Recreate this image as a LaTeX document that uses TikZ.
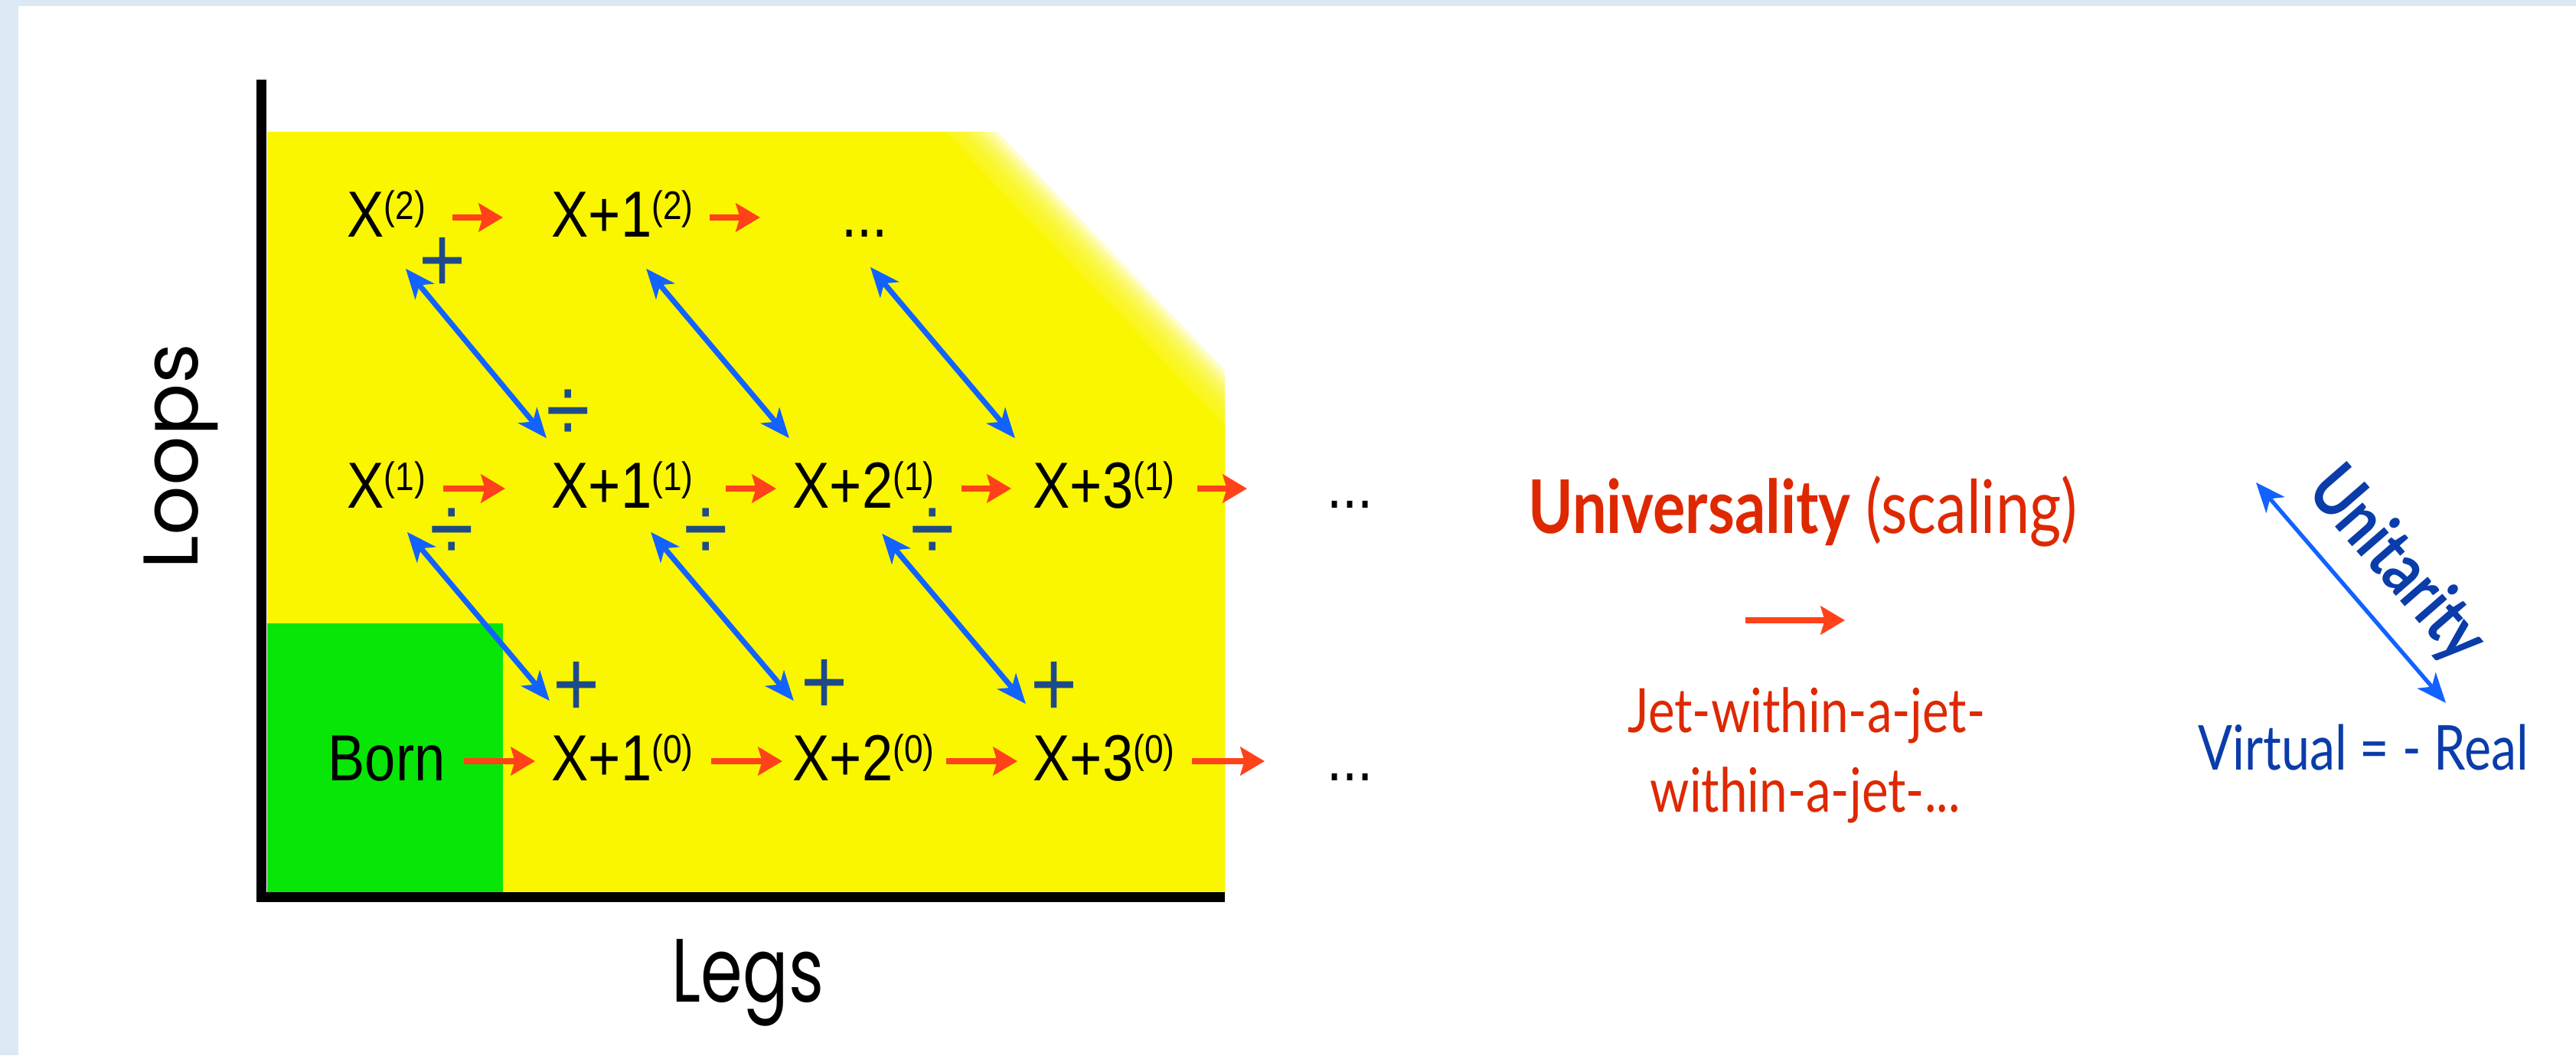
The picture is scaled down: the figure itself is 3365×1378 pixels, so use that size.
\documentclass[tikz,border=0pt]{standalone}
\usepackage{fontspec}
\setmainfont{Liberation Sans}[FakeStretch=0.85]
\newfontfamily\axisfont{Poppins}
\newfontfamily\legsfont{Poppins}[FakeStretch=0.75]
\newfontfamily\notefont{Lato}[FakeStretch=0.82]

\usetikzlibrary{arrows.meta}

\definecolor{bgblue}{RGB}{220,233,244}
\definecolor{yel}{RGB}{250,246,0}
\definecolor{grn}{RGB}{8,230,8}
\definecolor{arrred}{RGB}{255,66,25}
\definecolor{arrblue}{RGB}{18,98,255}
\definecolor{signblue}{RGB}{30,75,135}
\definecolor{txtred}{RGB}{222,40,0}
\definecolor{txtblue}{RGB}{10,60,170}

% loop order as a superscript
\newcommand{\lord}[1]{\raisebox{6.5pt}{\fontsize{14.8}{15}\selectfont(#1)}}

\tikzset{
  term/.style={inner sep=0pt, anchor=base west, text height=0.7cm, text depth=0.2cm,
    font=\fontsize{24.2}{29}\selectfont},
  sign/.style={inner sep=0pt, text=signblue, font=\fontsize{35}{35}\selectfont},
  redarrow/.style={draw=arrred, line width=2pt, -{Stealth[length=9pt,width=10.5pt,inset=1.5pt]}},
  bluearrow/.style={draw=arrblue, line width=2pt,
    {Stealth[length=11pt,width=9pt,inset=3pt]}-{Stealth[length=11pt,width=9pt,inset=3pt]}},
}

\begin{document}
\begin{tikzpicture}[x=0.01cm, y=-0.01cm]
    \useasboundingbox (0,0) rectangle (3365,1378);
    \fill[bgblue] (0,0) rectangle (3365,1378);
    \fill[white] (24,8) rectangle (3365,1378);

    % yellow region, faded along the diagonal
    \begin{scope}
        \clip (349,172) rectangle (1600,1165);
        \fill[yel] (300,0) -- (1124,57) -- (1710,671) -- (1700,1300) -- (300,1300) -- cycle;
        \foreach \d in {1,...,10}
            \fill[yel, opacity=0.2] (300,0) -- (1124+3.6*\d,57-3.45*\d)
                -- (1710+3.6*\d,671-3.45*\d) -- (1750,1300) -- (300,1300) -- cycle;
    \end{scope}
    \fill[grn] (349,814) rectangle (657,1165);

    % axes
    \fill (335,104) rectangle (348,1178);
    \fill (335,1165) rectangle (1600,1178);
    \node[rotate=90, anchor=base, font=\axisfont\fontsize{28.8}{30}\selectfont] (loops) at (258,596) {Loops};
    \node[anchor=base, font=\legsfont\fontsize{33.4}{34}\selectfont] (legs) at (977,1308) {Legs};

    % two loops
    \node[term] (x2) at (453,309) {X\lord{2}};
    \node[term] (x12) at (720,309) {X+1\lord{2}};
    \node[term] (d2) at (1099,309) {...};
    % one loop
    \node[term] (x1) at (453,663) {X\lord{1}};
    \node[term] (x11) at (720,663) {X+1\lord{1}};
    \node[term] (x21) at (1035,663) {X+2\lord{1}};
    \node[term] (x31) at (1349,663) {X+3\lord{1}};
    \node[term] (d1) at (1733,663) {...};
    % tree level
    \node[term] (born) at (428,1019) {Born};
    \node[term] (x10) at (720,1019) {X+1\lord{0}};
    \node[term] (x20) at (1035,1019) {X+2\lord{0}};
    \node[term] (x30) at (1349,1019) {X+3\lord{0}};
    \node[term] (d0) at (1733,1019) {...};

    \foreach \na/\nb/\lsh/\rsh in {x2/x12/0.34cm/0.63cm, x12/d2/0.21cm/1.06cm,
            x1/x11/0.22cm/0.60cm, x11/x21/0.42cm/0.21cm, x21/x31/0.35cm/0.28cm, x31/d1/0.29cm/1.04cm,
            born/x10/0.24cm/0.21cm, x10/x20/0.23cm/0.13cm, x20/x30/0.15cm/0.20cm, x30/d0/0.22cm/0.81cm}
        \draw[redarrow, shorten <=\lsh, shorten >=\rsh] (\na) -- (\nb);

    \foreach \na/\nb/\sx/\sy/\ex/\ey in {x2/x11/25/21/-6/-20, x12/x21/31/21/-4/-20, d2/x31/7/19/-23/-20,
            x1/x10/27/11/-2/-33, x11/x20/37/11/2/-33, x21/x30/24/13/-9/-29}
        \draw[bluearrow] ([shift={(\sx,\sy)}]\na.south) -- ([shift={(\ex,\ey)}]\nb.north west);

    % signs
    \node[sign] (p1) at (578,346) {+};
    \node[sign] (q1) at (742,543) {÷};
    \node[sign] (q2) at (590,698) {÷};
    \node[sign] (q3) at (922,698) {÷};
    \node[sign] (q4) at (1218,698) {÷};
    \node[sign] (p2) at (753,900) {+};
    \node[sign] (p3) at (1077,897) {+};
    \node[sign] (p4) at (1377,900) {+};

    % universality
    \node[anchor=base, text=txtred, font=\notefont\fontsize{27.5}{30}\selectfont] (univ) at (2355,696)
        {\textbf{Universality} (scaling)};
    \coordinate (ua) at (2280,810);
    \coordinate (ub) at (2410,810);
    \draw[redarrow] (ua) -- (ub);
    \node[anchor=base, text=txtred, font=\notefont\fontsize{22.7}{26}\selectfont] (jeta) at (2360,956) {Jet-within-a-jet-};
    \node[anchor=base, text=txtred, font=\notefont\fontsize{22.7}{26}\selectfont] (jetb) at (2358,1060) {within-a-jet-...};

    % unitarity
    \coordinate (ta) at (2947,630);
    \coordinate (tb) at (3195,918);
    \draw[bluearrow, line width=1.5pt] (ta) -- (tb);
    \node[rotate=-49, anchor=base, text=txtblue, font=\notefont\bfseries\fontsize{26.5}{28}\selectfont] (unit) at (3110,756) {Unitarity};
    \node[anchor=base, text=txtblue, font=\notefont\fontsize{23}{26}\selectfont] (virt) at (3087,1005) {Virtual = - Real};
\end{tikzpicture}
\end{document}
